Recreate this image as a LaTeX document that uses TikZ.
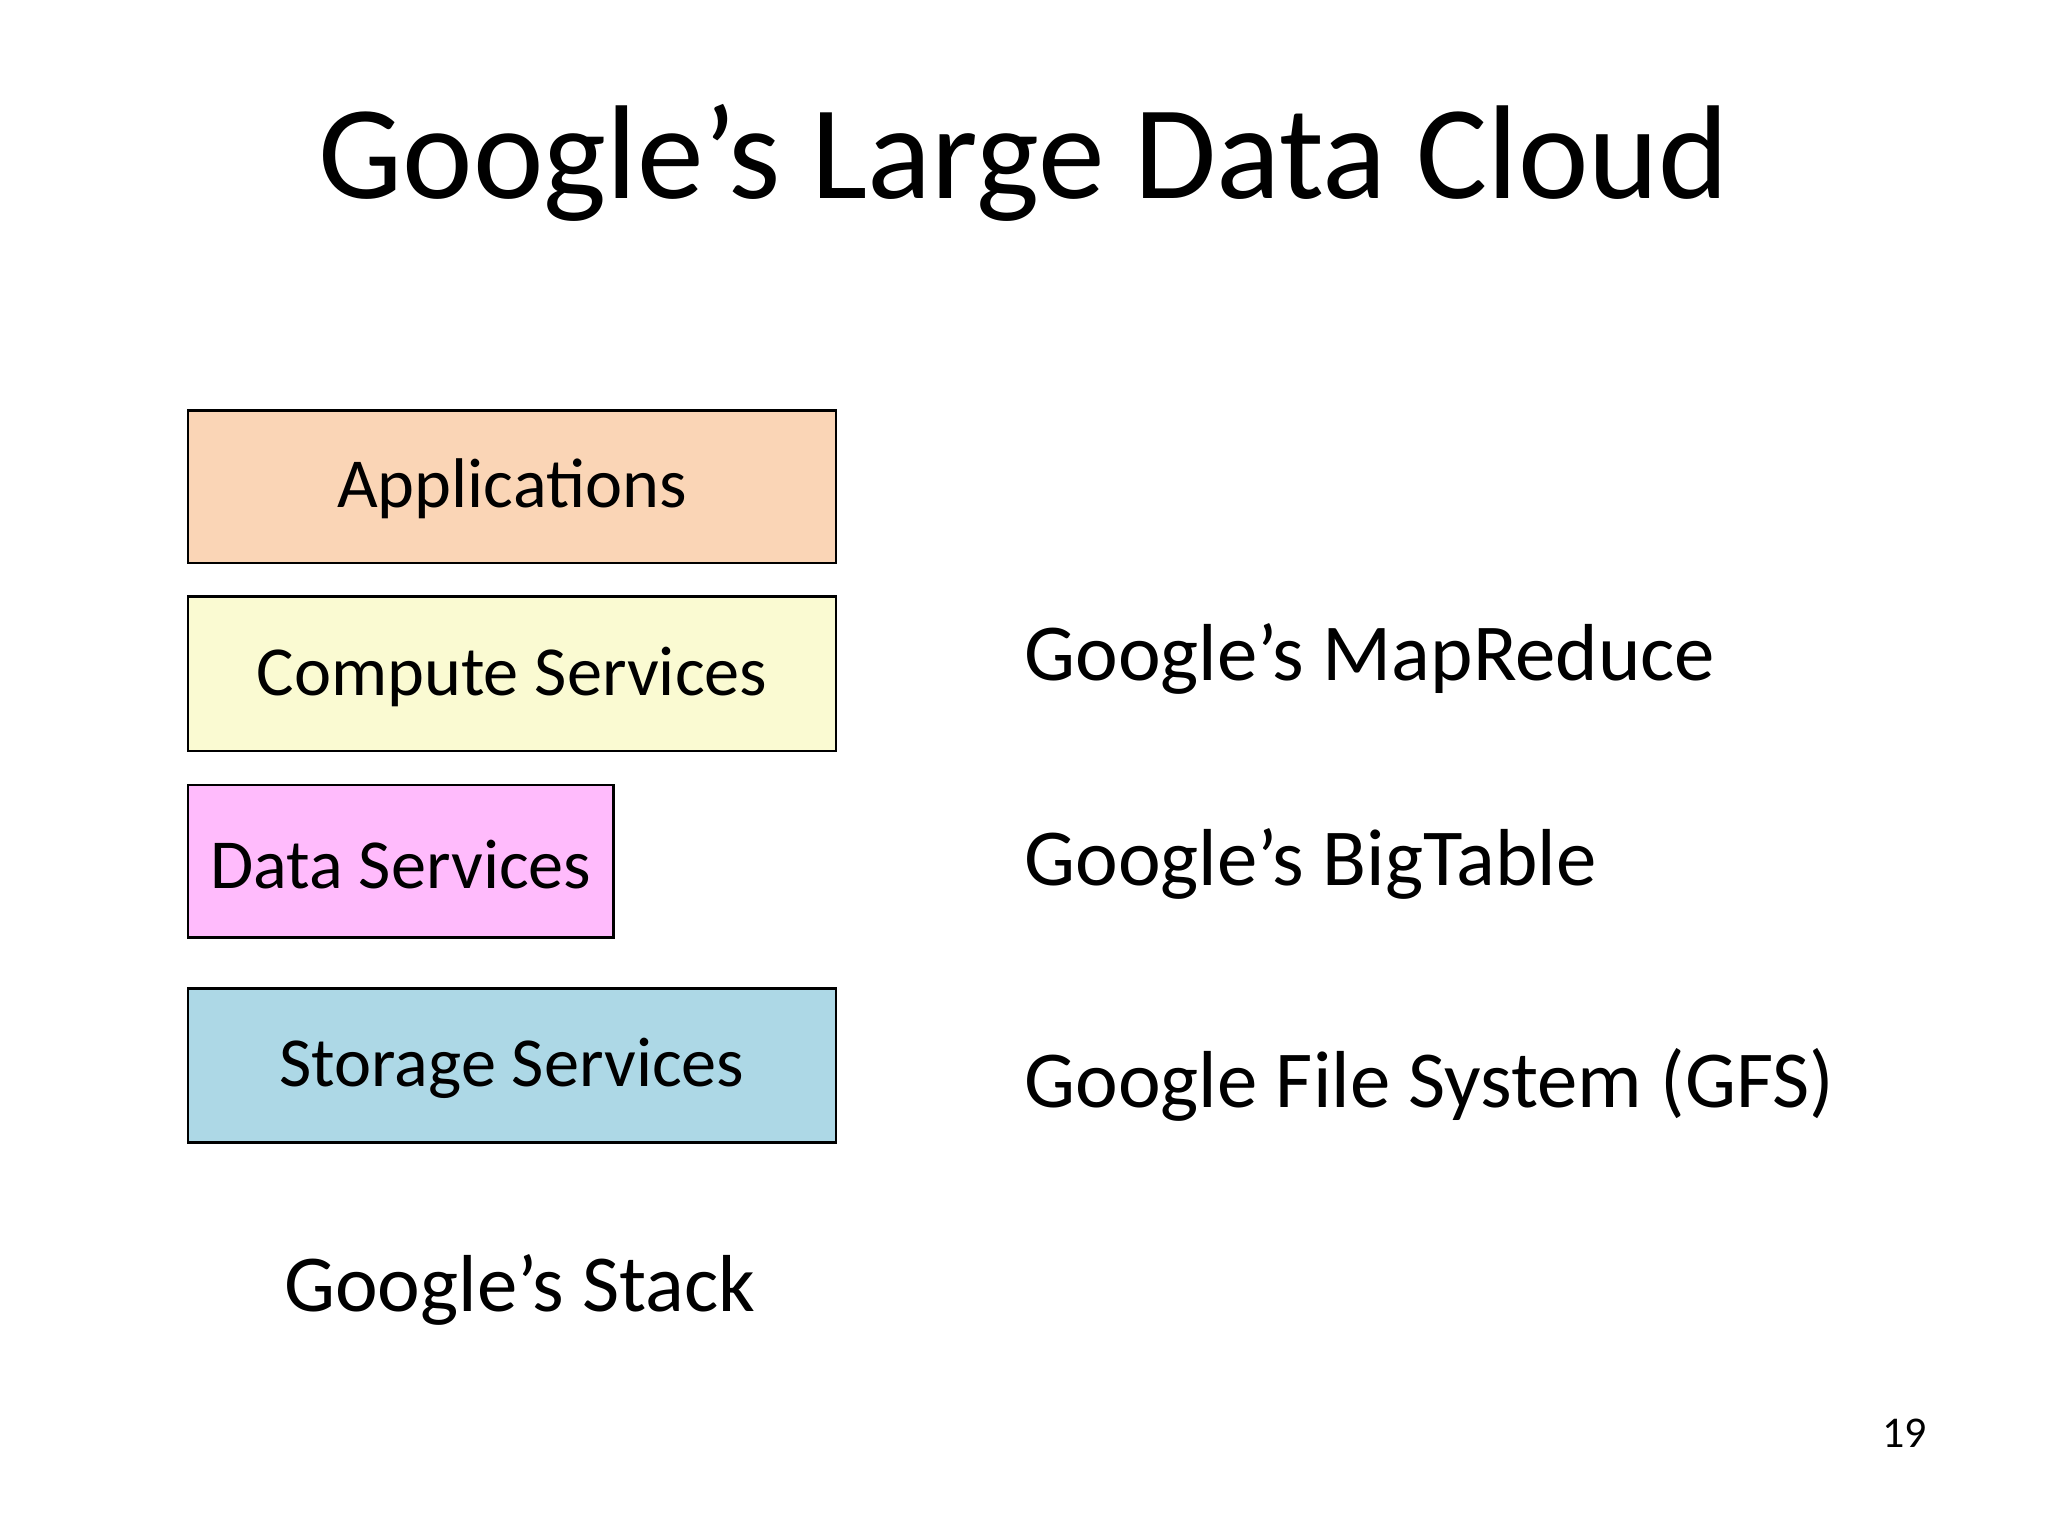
\documentclass[tikz,border=0pt]{standalone}
\usepackage{fontspec}
\setmainfont{Carlito}
\definecolor{appc}{HTML}{FAD5B6}
\definecolor{compc}{HTML}{FAFAD2}
\definecolor{datac}{HTML}{FFBBFC}
\definecolor{storc}{HTML}{ADD8E6}
\begin{document}
\begin{tikzpicture}[x=0.01306cm,y=-0.01306cm,
  layer/.style={draw=black,line width=0.8pt,font=\fontsize{20}{24}\selectfont},
  side/.style={anchor=base west,font=\fontsize{23}{28}\selectfont}]
\useasboundingbox (0,0) rectangle (1568,1176);
\fill[white] (0,0) rectangle (1568,1176);
\node[anchor=base,font=\fontsize{38}{44}\selectfont] (title) at (784,152) {Google’s Large Data Cloud};
\draw[layer,fill=appc] (144,314) rectangle (640,431);
\node[font=\fontsize{20}{24}\selectfont] (app) at (392,374) {Applications};
\draw[layer,fill=compc] (144,457) rectangle (640,575);
\node[font=\fontsize{20}{24}\selectfont] (comp) at (392,518) {Compute Services};
\draw[layer,fill=datac] (144,601) rectangle (470,718);
\node[font=\fontsize{20}{24}\selectfont] (data) at (307,662) {Data Services};
\draw[layer,fill=storc] (144,757) rectangle (640,875);
\node[font=\fontsize{20}{24}\selectfont] (stor) at (392,818) {Storage Services};
\node[side] (mr) at (775,521) {Google’s MapReduce};
\node[side] (bt) at (775,678) {Google’s BigTable};
\node[side] (gfs) at (775,848) {Google File System (GFS)};
\node[anchor=base,font=\fontsize{23}{28}\selectfont] (stack) at (398,1004) {Google’s Stack};
\node[anchor=base,font=\fontsize{12.5}{15}\selectfont] (pg) at (1458,1108) {19};
\end{tikzpicture}
\end{document}
